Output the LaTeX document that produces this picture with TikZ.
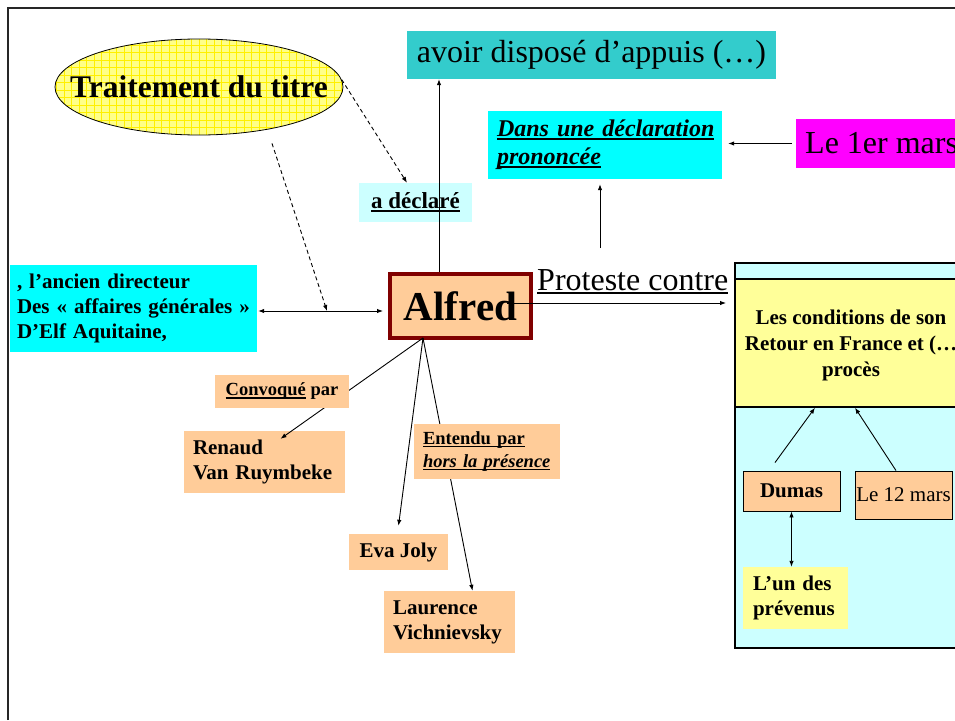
\documentclass[tikz,border=0pt]{standalone}
\usepackage{fontspec}
\setmainfont{Liberation Serif}
\usetikzlibrary{arrows.meta,shapes.geometric}

\definecolor{tealC}{HTML}{33CCCC}
\definecolor{cyanC}{HTML}{00FFFF}
\definecolor{lcyan}{HTML}{CCFFFF}
\definecolor{magC}{HTML}{FF00FF}
\definecolor{peach}{HTML}{FFCC99}
\definecolor{lyel}{HTML}{FFFF99}
\definecolor{ellY}{HTML}{FFFF88}
\definecolor{gridY}{HTML}{FFF000}
\definecolor{dred}{HTML}{800000}

% underline scaled to the current font size
\newcommand{\uln}[1]{\leavevmode\setbox0=\hbox{#1}\rlap{\rule[-0.14em]{\wd0}{0.07em}}\box0\relax}
\newcommand{\fsz}[2]{\fontsize{#1}{#2}\selectfont}

\begin{document}
\begin{tikzpicture}[x=1pt,y=-1pt,
  arr/.style={-{Latex[length=6pt,width=4.5pt]},line width=0.9pt},
  dbl/.style={{Latex[length=6pt,width=4.5pt]}-{Latex[length=6pt,width=4.5pt]},line width=0.9pt},
  dsh/.style={arr,dash pattern=on 4pt off 3pt},
  box/.style={rectangle,inner sep=0pt,font=\bfseries\fsz{21}{25}},
  lbox/.style={box,align=left},
]
\useasboundingbox (0,0) rectangle (955,720);
\clip (0,0) rectangle (955,720);

% title bubble with its grid texture
\node[ellipse,draw,line width=0.8pt,fill=ellY,minimum width=288,minimum height=96,
      inner sep=0pt,font=\bfseries\fsz{31.5}{36},
      path picture={\draw[gridY,line width=0.6pt,step=7.5pt]
        (path picture bounding box.south west) grid (path picture bounding box.north east);}]
      (ell) at (199,87) {\makebox[0pt]{Traitement du titre}};

% top boxes
\node[box,fill=tealC,minimum width=369,minimum height=48,font=\fsz{32}{38}]
      (appuis) at (591.5,55) {avoir disposé d’appuis (…)};
\node[box,fill=lcyan,minimum width=113,minimum height=39,font=\bfseries\fsz{23}{27}]
      (decl) at (415.5,202.5) {\uln{a déclaré}};
\node[lbox,fill=cyanC,minimum width=234,minimum height=68,text width=216,
      font=\bfseries\itshape\fsz{24}{28}]
      (dans) at (605,145) {\uln{Dans une déclaration}\\\uln{prononcée}};
\node[box,fill=magC,anchor=west,inner xsep=9pt,minimum height=49,font=\fsz{32}{38}]
      (mars1) at (796,143.5) {Le 1er mars};

% left description box
\node[lbox,fill=cyanC,minimum width=247,minimum height=87,text width=233]
      (dir) at (133.5,308.5) {\mbox{, l’ancien directeur}\\\mbox{Des «~affaires générales~»}\\\mbox{D’Elf Aquitaine,}};

% central node
\node[draw=dred,line width=4pt,fill=peach,minimum width=141,minimum height=64,
      inner sep=0pt,font=\bfseries\fsz{41}{48}]
      (alfred) at (460.5,306) {Alfred};

\node[anchor=base west,inner sep=0pt,font=\fsz{32}{38}]
      (prot) at (537,290) {\uln{Proteste contre}};

% right panel
\node[draw,line width=2pt,fill=lcyan,minimum width=300,minimum height=385,inner sep=0pt]
      (big) at (885,455.5) {};
\node[draw,line width=1.5pt,fill=lyel,minimum width=300,minimum height=128,inner sep=0pt]
      (cond) at (885,343) {};
\node[align=center,inner sep=0pt,font=\bfseries\fsz{21}{26}]
      (condtext) at (851,345) {Les conditions de son\\Retour en France et (…\\procès};
\node[box,draw,line width=0.9pt,fill=peach,minimum width=97,minimum height=40]
      (dumas) at (791.5,491) {Dumas};
\node[box,draw,line width=0.9pt,fill=peach,minimum width=97,minimum height=48,font=\fsz{21}{25}]
      (mars12) at (903.5,495) {Le 12 mars};
\node[lbox,fill=lyel,minimum width=105,minimum height=62,text width=85]
      (prev) at (795.5,598) {\mbox{L’un des}\\\mbox{prévenus}};

% lower boxes
\node[lbox,fill=peach,minimum width=161,minimum height=62,text width=142]
      (renaud) at (264,462) {\mbox{Renaud}\\\mbox{Van Ruymbeke}};
\node[box,fill=peach,minimum width=99,minimum height=36]
      (eva) at (398.5,552) {Eva Joly};
\node[lbox,fill=peach,minimum width=131,minimum height=62,text width=112]
      (laur) at (449,622) {\mbox{Laurence}\\\mbox{Vichnievsky}};

% connectors
\coordinate (meet) at (327,311);
\coordinate (hub) at ([xshift=-37.5pt,yshift=2pt]alfred.south);
\coordinate (pc) at (600,248);
\coordinate (pstart) at ([shift={(46.5pt,3pt)}]alfred.center);

\draw[dsh] (ell.3) -- ([xshift=-8.5pt]decl.north);
\draw[dsh] ([shift={(73pt,-8pt)}]ell.south) -- (meet);
\draw[dbl,shorten <=1pt,shorten >=5pt] (dir.east |- meet) -- (alfred.west |- meet);
\draw[arr] ([xshift=-21.5pt]alfred.north) -- ([xshift=-21.5pt]alfred.north |- appuis.south);
\draw[arr,shorten >=5pt] (pc) -- (pc |- dans.south);
\draw[arr,shorten <=4pt,shorten >=6pt] (mars1.west) -- (mars1.west -| dans.east);
\draw[arr,shorten >=8pt] (pstart) -- (pstart -| big.west);

\draw[arr] ([shift={(-16.5pt,8pt)}]dumas.north) -- ([xshift=-70pt]cond.south);
\draw[arr] ([xshift=-7.5pt]mars12.north) -- ([xshift=-30pt]cond.south);
\draw[dbl] (dumas.south) -- (dumas.south |- prev.north);

\draw[arr] (hub) -- ([shift={(16.5pt,-8pt)}]renaud.north);
\draw[arr] (hub) -- ([yshift=8pt]eva.north);
\draw[arr] (hub) -- ([xshift=23.5pt]laur.north);

% label boxes laid over the connectors
\node[box,fill=peach,minimum width=134,minimum height=33,font=\bfseries\fsz{18.5}{22}]
      (conv) at (282,391.5) {\uln{Convoqué} par};
\node[lbox,fill=peach,minimum width=146,minimum height=55,text width=127,font=\bfseries\fsz{18.5}{23}]
      (ent) at (486.5,451.5) {\uln{Entendu par}\\\uln{\itshape hors la présence}};

% page frame
\draw[line width=2.5pt,black!85] (8,720) -- (8,8) -- (960,8);
\end{tikzpicture}
\end{document}
